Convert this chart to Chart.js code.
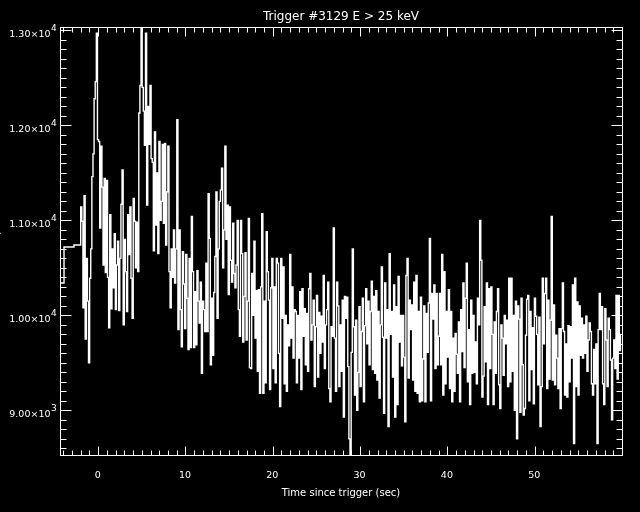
<!DOCTYPE html>
<html>
<head>
<meta charset="utf-8">
<style>
  html, body { margin: 0; padding: 0; background: #000; }
  canvas { display: block; }
</style>
<script src="https://cdn.jsdelivr.net/npm/chart.js"></script>
</head>
<body>
<canvas id="lc" width="640" height="512"></canvas>
<script>
// pre-trigger bins (irregular edges, sec) and their rates
const preEdges = [-4.37, -3.91, -2.77, -2.0];
const preCounts = [10340, 10720, 10740];

// regular bins from binStart, binWidth sec each (counts/sec)
const binStart = -2.0;
const binWidth = 0.128;
const counts = [
  11140, 10990, 10080, 11260, 9750, 10600, 10150, 9500,
  10390, 10700, 11460, 11700, 12280, 12460, 12970, 11850,
  11830, 10920, 11780, 11350, 10530, 11440, 10450, 11420,
  10400, 9870, 11060, 10070, 10700, 10290, 10860, 10060,
  10530, 10780, 10050, 10600, 11170, 11530, 9900, 10800,
  10460, 10040, 11060, 10640, 11140, 10390, 9970, 11230,
  10990, 10500, 10980, 10460, 12130, 12420, 13150, 12400,
  12150, 11790, 12970, 11160, 12200, 11800, 12420, 11650,
  11610, 10680, 11930, 10950, 11500, 10650, 11830, 11000,
  11200, 11800, 10970, 11810, 10740, 11300, 11780, 10460,
  10080, 10700, 10400, 10900, 10340, 10700, 12060, 9850,
  10900, 10060, 9670, 10670, 10330, 9860, 10640, 10180,
  9640, 10600, 9660, 11040, 10460, 9660, 10250, 9690,
  10470, 10150, 9920, 10350, 9390, 10150, 10060, 9830,
  10550, 9830, 11280, 10810, 9480, 10180, 9580, 10240,
  10620, 11300, 9970, 10700, 11200, 11320, 11550, 10500,
  10900, 11780, 10800, 11160, 10220, 11140, 10580, 10350,
  10970, 10440, 10290, 10530, 11000, 10060, 9780, 11000,
  10650, 9720, 10200, 10660, 9740, 10150, 11020, 9450,
  9440, 10440, 10000, 10780, 9760, 10260, 9410, 10270,
  9180, 10300, 11070, 9180, 10150, 9290, 10880, 10460,
  10160, 9220, 10290, 10600, 9440, 10300, 9290, 10600,
  10550, 9600, 9040, 10600, 9970, 10510, 9280, 10000,
  9200, 9900, 9680, 10640, 9760, 10300, 9550, 10060,
  10040, 9290, 10000, 9550, 10250, 9220, 10280, 9780,
  10070, 9480, 10020, 9410, 10280, 10440, 9740, 9900,
  10160, 9250, 9880, 10210, 9350, 10030, 9600, 9990,
  9720, 10420, 9440, 9900, 10060, 10350, 9230, 9090,
  9880, 9780, 10920, 9760, 9200, 10350, 10100, 9250,
  9900, 9410, 10160, 8930, 10200, 9970, 10190, 9460,
  8700, 8530, 9610, 10700, 9880, 9160, 9950, 9000,
  9400, 10090, 9250, 9830, 10180, 9090, 9890, 10280,
  9700, 10150, 9480, 10040, 10360, 9430, 10200, 9390,
  10260, 9320, 10040, 9130, 9900, 10510, 9770, 8970,
  10340, 9760, 10060, 8830, 10650, 9800, 10040, 9350,
  10320, 8930, 10090, 9060, 10410, 9720, 10000, 9470,
  10000, 9560, 8880, 10420, 10600, 9340, 10160, 9850,
  10110, 9320, 10350, 9200, 10420, 9180, 10040, 9090,
  10190, 9100, 9540, 10100, 9090, 10020, 9610, 10130,
  10810, 9100, 10230, 9960, 10320, 9440, 10230, 9480,
  9780, 10230, 9480, 10640, 9160, 10460, 9280, 10040,
  9560, 10270, 9230, 10040, 9090, 9760, 9200, 9810,
  9590, 9390, 9930, 9090, 10060, 9620, 10340, 9450,
  10180, 10550, 9300, 9850, 9060, 10160, 9390, 10000,
  9400, 9720, 9280, 10180, 9900, 11000, 10580, 9140,
  9360, 10090, 9510, 10340, 9060, 10280, 9440, 10300,
  9800, 9060, 9930, 9390, 10040, 10280, 9270, 9020,
  9900, 9760, 9370, 10000, 9700, 9950, 9250, 10390,
  9300, 10390, 9410, 10000, 9000, 10150, 8700, 10100,
  9960, 8980, 10180, 9480, 8950, 9020, 9790, 10170,
  10210, 9100, 10040, 9430, 9870, 9070, 10180, 9990,
  9800, 9270, 9980, 8830, 9250, 10390, 9700, 10230,
  10390, 9230, 10160, 9330, 9950, 11040, 9320, 10110,
  9270, 9790, 9550, 9230, 9860, 9020, 9860, 10340,
  9830, 9160, 9700, 9140, 9890, 9300, 9880, 9550,
  10320, 8650, 10390, 9250, 10140, 9160, 10100, 9580,
  9970, 9550, 9900, 9600, 9990, 9410, 9740, 9920,
  9830, 9280, 9160, 9640, 9280, 9700, 8650, 9850,
  10230, 9850, 10090, 9280, 9060, 10070, 9740, 9250,
  9970, 9850, 9530, 8900, 9550, 9740, 9440, 10210,
  9330, 10210, 9630, 9800
];

const xRange = [-4.37, 60.0];
const yRange = [8530, 13035];
const xMajorTicks = [0, 10, 20, 30, 40, 50];
const xMinorStep = 1;
const yMajorTicks = [9000, 10000, 11000, 12000, 13000];
const yMinorStep = 100;
const yLabelMant = ["9.00", "1.00", "1.10", "1.20", "1.30"];
const yLabelExp = ["3", "4", "4", "4", "4"];

const titleText = "Trigger #3129 E > 25 keV";
const xTitle = "Time since trigger (sec)";
const yTitle = "Counts/sec";

// histogram points: value at left edge of each bin, plus closing edge
const points = [];
preCounts.forEach((v, i) => points.push({ x: preEdges[i], y: v }));
counts.forEach((v, i) => points.push({ x: binStart + i * binWidth, y: v }));
points.push({ x: binStart + counts.length * binWidth, y: counts[counts.length - 1] });

const FONT = '"DejaVu Sans", sans-serif';

const idlFrame = {
  id: "idlFrame",
  beforeDraw(chart) {
    const ctx = chart.ctx;
    ctx.save();
    ctx.fillStyle = "#000";
    ctx.fillRect(0, 0, chart.width, chart.height);
    ctx.restore();
  },
  afterDraw(chart) {
    const { ctx, chartArea: a } = chart;
    const xs = chart.scales.x, ys = chart.scales.y;
    const L = a.left + 0.5, R = a.right + 0.5, T = a.top + 0.5, B = a.bottom + 0.5;
    ctx.save();
    ctx.strokeStyle = "#fff";
    ctx.fillStyle = "#fff";
    ctx.lineWidth = 1;
    ctx.strokeRect(L, T, R - L, B - T);

    ctx.beginPath();
    // x ticks, inward on bottom and top
    for (let t = Math.ceil(xRange[0]); t < xRange[1]; t += xMinorStep) {
      const major = xMajorTicks.includes(t);
      const len = major ? 9 : 5;
      const px = Math.round(xs.getPixelForValue(t)) + 0.5;
      ctx.moveTo(px, B); ctx.lineTo(px, B - len);
      ctx.moveTo(px, T); ctx.lineTo(px, T + len);
    }
    // y ticks, inward on left and right
    for (let v = Math.ceil(yRange[0] / yMinorStep) * yMinorStep; v <= yRange[1]; v += yMinorStep) {
      const major = yMajorTicks.includes(v);
      const len = major ? 11 : 6;
      const py = Math.round(ys.getPixelForValue(v)) + 0.5;
      ctx.moveTo(L, py); ctx.lineTo(L + len, py);
      ctx.moveTo(R, py); ctx.lineTo(R - len, py);
    }
    ctx.stroke();

    // x tick labels
    ctx.font = "9.5px " + FONT;
    ctx.textAlign = "center";
    ctx.textBaseline = "alphabetic";
    xMajorTicks.forEach(t => {
      ctx.fillText(String(t), xs.getPixelForValue(t) - 0.5, 477.5);
    });

    // y tick labels: mantissa x 10 ^ exponent
    yMajorTicks.forEach((v, i) => {
      const py = ys.getPixelForValue(v);
      ctx.font = "9.5px " + FONT;
      ctx.textAlign = "right";
      ctx.fillText(yLabelMant[i] + "\u00d710", 50.5, py + 6.5);
      ctx.font = "9px " + FONT;
      ctx.textAlign = "left";
      ctx.fillText(yLabelExp[i], 51, py + 0.8);
    });

    // titles
    const cx = (a.left + a.right) / 2;
    ctx.textAlign = "center";
    ctx.font = "12px " + FONT;
    ctx.fillText(titleText, cx, 20);
    ctx.font = "10px " + FONT;
    ctx.fillText(xTitle, cx, 496);

    // y title sits almost entirely off the left edge, as in the original
    ctx.save();
    ctx.translate(0.3, (a.top + a.bottom) / 2);
    ctx.rotate(-Math.PI / 2);
    ctx.fillText(yTitle, 0, 0);
    ctx.restore();

    ctx.restore();
  }
};

new Chart(document.getElementById("lc"), {
  type: "line",
  data: {
    datasets: [{
      data: points,
      borderColor: "#fff",
      borderWidth: 1.4,
      pointRadius: 0,
      stepped: "before",
      fill: false,
      tension: 0
    }]
  },
  options: {
    responsive: false,
    devicePixelRatio: 1,
    animation: false,
    events: [],
    layout: { padding: { left: 60, right: 18, top: 27, bottom: 57 } },
    plugins: { legend: { display: false }, tooltip: { enabled: false } },
    scales: {
      x: { type: "linear", min: xRange[0], max: xRange[1], display: false },
      y: { type: "linear", min: yRange[0], max: yRange[1], display: false }
    }
  },
  plugins: [idlFrame]
});
</script>
</body>
</html>
